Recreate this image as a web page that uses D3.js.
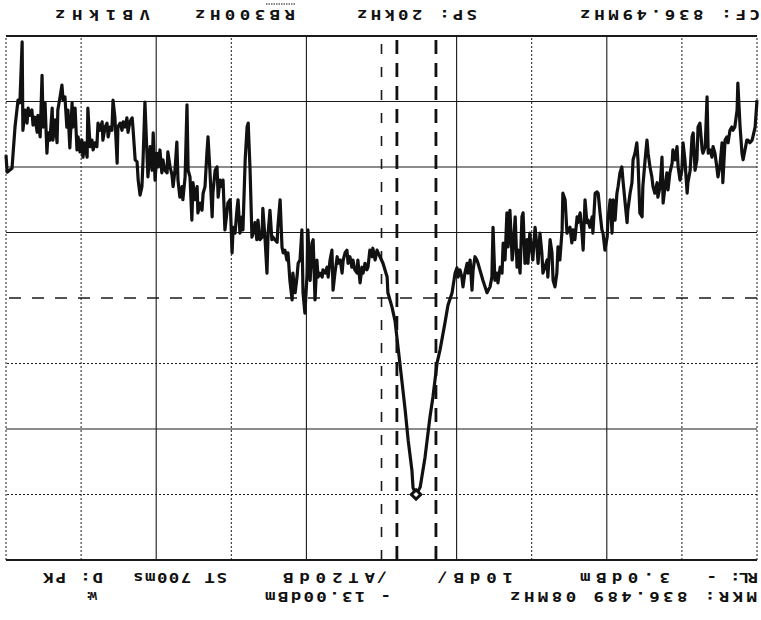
<!DOCTYPE html>
<html>
<head>
<meta charset="utf-8">
<script src="https://cdnjs.cloudflare.com/ajax/libs/d3/7.8.5/d3.min.js"></script>
<style>
body { margin:0; background:#fff; }
svg { display:block; }
.annot { font-family:'DejaVu Sans Mono', monospace; font-size:14px; font-weight:bold; fill:#111; }
</style>
</head>
<body>
<div id="chart"></div>
<script>
// spectrum analyzer plot (the printout is upside down)
// freq = kHz from start (836.48 MHz), level = dBm
var gridKHz = [0,2,4,6,8,10,12,14,16,18,20]
var gridDbm = [-3,-13,-23,-33,-43,-53,-63,-73,-83]
var windowKHz = [8.55, 9.59]
var markerPoint = [9.08, -13.0]

var headerTexts = ['MKR: 836.489 08MHz', '- 13.00dBm', 'W:']
var settingTexts = ['RL:', '-', '3.0dBm', '10dB/', '/', 'AT20dB', 'ST 700ms', 'D: PK']
var footerTexts = ['CF: 836.49MHz', 'SP: 20kHz', 'RB300Hz', 'VB1kHz']

var trace = [
	[20.00,-64.8],[19.97,-62.2],[19.84,-62.8],[19.76,-69.1],[19.68,-73.2],[19.63,-72.8],[19.57,-82.1],[19.55,-68.6],[19.49,-71.7],[19.44,-69.7],
	[19.41,-72.0],[19.36,-70.9],[19.31,-71.7],[19.28,-69.4],[19.23,-70.6],[19.17,-68.3],[19.15,-70.9],[19.09,-67.6],[19.04,-77.0],[19.01,-69.1],
	[18.96,-72.8],[18.91,-65.1],[18.88,-68.2],[18.83,-67.1],[18.77,-72.0],[18.75,-67.1],[18.69,-70.2],[18.64,-66.7],[18.62,-71.7],[18.56,-73.7],
	[18.51,-75.5],[18.48,-73.2],[18.43,-73.7],[18.38,-69.1],[18.35,-71.7],[18.30,-65.9],[18.24,-72.8],[18.22,-69.1],[18.16,-72.0],[18.11,-65.6],
	[18.08,-67.6],[18.03,-65.3],[17.98,-67.1],[17.95,-64.5],[17.90,-66.7],[17.84,-64.5],[17.82,-72.0],[17.76,-66.1],[17.71,-67.1],[17.68,-65.6],
	[17.63,-66.7],[17.58,-66.1],[17.55,-69.7],[17.50,-68.6],[17.44,-69.9],[17.42,-67.1],[17.36,-69.1],[17.31,-69.7],[17.28,-67.6],[17.23,-69.1],
	[17.18,-68.6],[17.15,-73.2],[17.10,-70.6],[17.04,-63.6],[17.02,-69.1],[16.96,-69.7],[16.91,-68.6],[16.88,-69.9],[16.83,-69.1],[16.78,-70.5],
	[16.75,-68.3],[16.70,-69.9],[16.64,-70.5],[16.62,-69.1],[16.56,-64.1],[16.51,-63.8],[16.48,-61.0],[16.43,-58.7],[16.38,-60.0],[16.35,-64.1],
	[16.30,-72.9],[16.24,-64.1],[16.22,-61.5],[16.16,-66.1],[16.11,-62.5],[16.08,-68.2],[16.03,-61.0],[15.98,-65.1],[15.95,-63.0],[15.90,-65.6],
	[15.85,-62.1],[15.82,-64.1],[15.77,-62.5],[15.71,-62.1],[15.69,-65.3],[15.63,-63.0],[15.58,-61.8],[15.55,-60.0],[15.50,-62.5],[15.45,-66.8],
	[15.42,-61.0],[15.37,-58.4],[15.31,-60.0],[15.29,-58.0],[15.23,-61.5],[15.18,-72.5],[15.15,-62.5],[15.10,-61.5],[15.05,-54.9],[15.02,-60.6],
	[14.97,-58.0],[14.91,-60.0],[14.89,-56.0],[14.83,-57.5],[14.78,-56.4],[14.75,-59.0],[14.70,-60.0],[14.65,-65.1],[14.62,-67.6],[14.57,-62.5],
	[14.51,-55.4],[14.49,-59.0],[14.43,-62.5],[14.38,-63.0],[14.35,-58.4],[14.30,-61.0],[14.25,-60.0],[14.22,-61.0],[14.17,-53.4],[14.11,-56.4],
	[14.09,-57.5],[14.03,-58.0],[13.98,-49.9],[13.95,-53.8],[13.90,-52.9],[13.85,-56.4],[13.82,-58.0],[13.77,-52.9],[13.71,-55.4],[13.69,-53.4],
	[13.63,-64.1],[13.58,-69.1],[13.55,-69.7],[13.50,-62.5],[13.45,-52.3],[13.42,-52.9],[13.37,-54.5],[13.32,-51.9],[13.29,-54.9],[13.24,-51.9],
	[13.18,-52.3],[13.16,-56.7],[13.10,-51.9],[13.05,-46.8],[13.02,-52.9],[12.97,-56.4],[12.92,-51.9],[12.89,-52.3],[12.84,-51.9],[12.78,-51.5],
	[12.76,-53.8],[12.70,-58.0],[12.65,-50.8],[12.62,-49.9],[12.57,-50.3],[12.52,-48.8],[12.49,-49.9],[12.44,-45.7],[12.38,-42.7],[12.36,-46.8],
	[12.30,-43.8],[12.25,-46.2],[12.22,-48.3],[12.17,-48.8],[12.12,-53.4],[12.09,-43.8],[12.04,-40.7],[11.98,-46.8],[11.96,-53.4],[11.90,-45.7],
	[11.85,-51.4],[11.82,-51.9],[11.77,-42.7],[11.72,-48.8],[11.69,-46.2],[11.64,-46.8],[11.58,-46.2],[11.56,-47.3],[11.50,-46.8],[11.45,-47.7],
	[11.42,-46.2],[11.37,-48.8],[11.32,-50.3],[11.29,-44.2],[11.24,-46.8],[11.18,-49.3],[11.16,-48.3],[11.10,-48.8],[11.05,-46.8],[11.02,-48.8],
	[10.97,-49.9],[10.92,-50.3],[10.89,-48.3],[10.84,-49.3],[10.79,-47.7],[10.76,-48.8],[10.71,-47.3],[10.65,-46.8],[10.63,-48.8],[10.57,-45.3],
	[10.52,-47.7],[10.49,-46.8],[10.44,-48.3],[10.39,-47.3],[10.36,-47.7],[10.31,-50.3],[10.25,-49.3],[10.23,-50.6],[10.17,-48.8],[10.12,-50.3],
	[10.09,-49.9],[10.04,-49.3],[9.96,-48.3],[9.85,-46.2],[9.83,-43.8],[9.72,-41.6],[9.64,-39.5],[9.56,-35.5],[9.45,-30.0],[9.37,-25.9],
	[9.29,-21.3],[9.19,-16.7],[9.16,-14.0],[9.08,-13.0],[8.97,-14.1],[8.84,-18.7],[8.71,-24.8],[8.63,-27.9],[8.52,-33.1],[8.44,-35.1],
	[8.31,-39.2],[8.23,-41.9],[8.12,-43.8],[8.04,-46.8],[7.99,-47.6],[7.96,-46.2],[7.91,-47.3],[7.86,-46.2],[7.83,-44.7],[7.78,-46.8],
	[7.72,-48.3],[7.70,-46.8],[7.64,-48.8],[7.59,-44.2],[7.56,-47.3],[7.51,-49.3],[7.46,-48.8],[7.43,-48.3],[7.38,-47.3],[7.30,-45.7],
	[7.19,-43.8],[7.11,-44.7],[7.06,-46.2],[7.03,-53.8],[6.98,-45.7],[6.92,-46.8],[6.90,-45.3],[6.84,-47.7],[6.79,-46.8],[6.76,-51.4],
	[6.71,-48.8],[6.66,-56.0],[6.63,-50.8],[6.58,-56.4],[6.52,-48.8],[6.50,-49.9],[6.44,-55.4],[6.39,-47.7],[6.36,-50.3],[6.31,-46.8],
	[6.26,-55.4],[6.23,-56.0],[6.18,-48.3],[6.12,-51.9],[6.10,-48.3],[6.05,-52.9],[5.99,-49.9],[5.97,-48.8],[5.91,-53.8],[5.86,-50.8],
	[5.83,-48.3],[5.78,-52.9],[5.73,-49.9],[5.70,-46.8],[5.65,-47.7],[5.59,-48.8],[5.57,-46.2],[5.51,-51.9],[5.46,-49.9],[5.43,-45.7],
	[5.38,-44.7],[5.33,-46.8],[5.30,-50.8],[5.25,-48.8],[5.19,-53.4],[5.17,-59.0],[5.11,-58.0],[5.06,-52.9],[4.98,-53.8],[4.93,-51.4],
	[4.90,-53.4],[4.85,-51.9],[4.79,-55.4],[4.77,-54.5],[4.71,-56.0],[4.66,-52.9],[4.63,-50.3],[4.58,-58.0],[4.53,-54.5],[4.50,-54.9],
	[4.45,-53.8],[4.39,-55.4],[4.37,-52.9],[4.31,-59.0],[4.26,-59.2],[4.23,-59.0],[4.18,-56.0],[4.13,-53.4],[4.10,-52.9],[4.05,-50.3],
	[3.99,-52.3],[3.97,-54.9],[3.91,-58.0],[3.86,-52.9],[3.83,-58.0],[3.78,-54.9],[3.73,-59.0],[3.70,-60.0],[3.65,-62.1],[3.60,-63.0],
	[3.57,-61.0],[3.52,-58.0],[3.46,-54.5],[3.44,-56.4],[3.38,-59.0],[3.33,-60.6],[3.30,-64.1],[3.25,-65.1],[3.20,-66.7],[3.17,-64.1],
	[3.12,-56.0],[3.06,-55.4],[3.04,-60.0],[2.98,-64.1],[2.93,-67.1],[2.90,-65.1],[2.85,-63.0],[2.80,-61.5],[2.77,-60.0],[2.72,-59.0],
	[2.66,-60.6],[2.64,-58.4],[2.58,-60.0],[2.53,-64.5],[2.50,-57.5],[2.45,-60.0],[2.40,-62.1],[2.37,-59.5],[2.32,-62.1],[2.26,-63.6],
	[2.24,-65.6],[2.18,-64.1],[2.13,-66.1],[2.10,-63.0],[2.05,-61.0],[2.00,-62.5],[1.97,-66.7],[1.92,-64.1],[1.86,-59.0],[1.84,-60.6],
	[1.78,-62.5],[1.73,-67.6],[1.70,-68.2],[1.65,-62.5],[1.60,-64.1],[1.57,-69.1],[1.52,-69.7],[1.46,-65.6],[1.44,-65.1],[1.38,-66.1],
	[1.33,-73.7],[1.30,-65.1],[1.25,-65.6],[1.20,-64.5],[1.17,-66.1],[1.12,-65.1],[1.07,-63.0],[1.04,-61.5],[0.99,-63.0],[0.93,-66.7],
	[0.91,-60.6],[0.85,-67.1],[0.80,-67.6],[0.77,-66.7],[0.72,-68.6],[0.67,-69.1],[0.64,-68.6],[0.59,-69.1],[0.53,-71.7],[0.51,-75.8],
	[0.45,-69.1],[0.40,-65.1],[0.37,-64.1],[0.32,-65.6],[0.27,-67.1],[0.24,-67.1],[0.19,-66.7],[0.13,-67.1],[0.11,-67.6],[0.05,-69.1],
	[0.00,-73.2]
]

var width = 761, height = 620

var svg = d3.select('#chart').append('svg')
	.attr('width', width)
	.attr('height', height)

svg.append('rect').attr('width', width).attr('height', height).attr('fill', '#fff')

// the whole printout is turned over
var root = svg.append('g').attr('transform', 'rotate(180,' + width / 2 + ',' + height / 2 + ')')

var x = d3.scaleLinear().domain([0, 20]).range([4, 755])
var y = d3.scaleLinear().domain([-3, -83]).range([60, 584])

/* graticule */
var vStyle = function(d){
	if (d == 0 || d == 20) return {w:1, dash:'2,2'}
	if (d == 10) return {w:1.6, dash:'10,13'}
	if (d == 4 || d == 8 || d == 12 || d == 16) return {w:1.1, dash:null}
	return {w:1, dash:'2,2'}
}
var hStyle = function(d){
	if (d == -3 || d == -83) return {w:2, dash:null}
	if (d == -43) return {w:1.5, dash:'12,11'}
	if (d == -13 || d == -33) return {w:1, dash:'2,2'}
	return {w:1.1, dash:null}
}

var grid = root.append('g').attr('class', 'grid')
grid.selectAll('line.v').data(gridKHz).enter().append('line').attr('class', 'v')
	.attr('x1', function(d){ return x(d) })
	.attr('x2', function(d){ return x(d) })
	.attr('y1', y(-3))
	.attr('y2', y(-83))
	.attr('stroke', '#1a1a1a')
	.attr('stroke-width', function(d){ return vStyle(d).w })
	.attr('stroke-dasharray', function(d){ return vStyle(d).dash })

grid.selectAll('line.h').data(gridDbm).enter().append('line').attr('class', 'h')
	.attr('y1', function(d){ return y(d) })
	.attr('y2', function(d){ return y(d) })
	.attr('x1', x(0))
	.attr('x2', x(20))
	.attr('stroke', '#1a1a1a')
	.attr('stroke-width', function(d){ return hStyle(d).w })
	.attr('stroke-dasharray', function(d){ return hStyle(d).dash })

// window lines around the marker
root.selectAll('line.win').data(windowKHz).enter().append('line').attr('class', 'win')
	.attr('x1', function(d){ return x(d) })
	.attr('x2', function(d){ return x(d) })
	.attr('y1', y(-3))
	.attr('y2', y(-83))
	.attr('stroke', '#111')
	.attr('stroke-width', 2.8)
	.attr('stroke-dasharray', '14,9')

/* trace */
var line = d3.line()
	.x(function(d){ return x(d[0]) })
	.y(function(d){ return y(d[1]) })

root.append('path')
	.datum(trace)
	.attr('d', line)
	.attr('fill', 'none')
	.attr('stroke', '#111')
	.attr('stroke-width', 3.2)
	.attr('stroke-linejoin', 'round')

root.append('path')
	.attr('d', d3.symbol().type(d3.symbolSquare).size(45)())
	.attr('transform', 'translate(' + x(markerPoint[0]) + ',' + y(markerPoint[1]) + ') rotate(45)')
	.attr('fill', '#fff')
	.attr('stroke', '#111')
	.attr('stroke-width', 3)

/* annotation text, placed as [x, width, baseline]; glyphs widened a bit */
var sx = 1.25
var put = function(texts, pos, small){
	texts.forEach(function(t, i){
		var p = pos[i]
		var el = root.append('text').attr('class', 'annot')
			.attr('transform', 'translate(' + p[0] + ',' + p[2] + ') scale(' + sx + ',1)')
			.text(t)
		if (t.length > 1) el.attr('textLength', p[1] / sx).attr('lengthAdjust', 'spacing')
		if (small && small[i]) el.style('font-size', '10px')
	})
}

put(headerTexts, [[4,247,28],[370,126,28],[664,12,28]], [0,0,1])
put(settingTexts, [[3,28,47],[44,7,47],[91,90,47],[248,76,47],[374,7,47],[386,92,47],[534,94,47],[658,60,47]])
put(footerTexts, [[1,180,610],[284,120,610],[466,100,610],[611,95,610]])

// bar over RB
root.append('line')
	.attr('x1', 466).attr('x2', 496)
	.attr('y1', 616).attr('y2', 616)
	.attr('stroke', '#111').attr('stroke-width', 1)
	.attr('stroke-dasharray', '1.5,1')
</script>
</body>
</html>
